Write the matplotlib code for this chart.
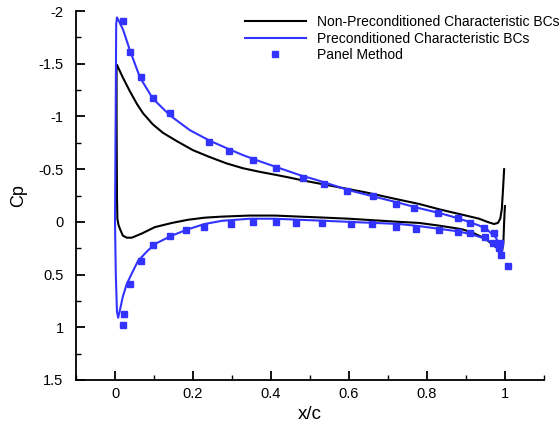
#!/usr/bin/env python3
import numpy as np
import matplotlib
matplotlib.use("Agg")
import matplotlib.pyplot as plt
from matplotlib.ticker import MultipleLocator

plt.rcParams['font.family'] = ['Liberation Sans', 'DejaVu Sans']

# non-preconditioned characteristic BCs (upper TE -> LE -> lower TE)
x_np = [0.998, 0.995, 0.992, 0.988, 0.982, 0.972, 0.955, 0.934, 0.9, 0.865, 0.831,
        0.78, 0.729, 0.686, 0.643, 0.6, 0.558, 0.515, 0.473, 0.448, 0.414, 0.371,
        0.327, 0.286, 0.243, 0.2, 0.159, 0.123, 0.097, 0.072, 0.056, 0.038, 0.020,
        0.010, 0.005, 0.004, 0.004, 0.005, 0.006, 0.009, 0.013, 0.02, 0.03, 0.043,
        0.069, 0.102, 0.146, 0.187, 0.23, 0.274, 0.345, 0.41, 0.473, 0.54, 0.6,
        0.665, 0.729, 0.78, 0.83, 0.865, 0.89, 0.916, 0.95, 0.98, 0.992, 0.996,
        0.998, 1.0]
cp_np = [-0.50, -0.30, -0.12, -0.03, 0.01, 0.02, 0.0, -0.03, -0.06, -0.09, -0.12,
         -0.17, -0.21, -0.245, -0.28, -0.31, -0.34, -0.37, -0.40, -0.42, -0.445, -0.475,
         -0.51, -0.555, -0.615, -0.68, -0.765, -0.845, -0.925, -1.03, -1.12, -1.24, -1.37,
         -1.45, -1.49, -1.45, -1.0, -0.25, -0.03, 0.03, 0.07, 0.13, 0.15, 0.15,
         0.11, 0.05, 0.01, -0.02, -0.04, -0.05, -0.06, -0.06, -0.05, -0.04, -0.03,
         -0.015, 0.0, 0.01, 0.035, 0.055, 0.07, 0.10, 0.16, 0.25, 0.29, 0.2,
         0.0, -0.15]

# preconditioned characteristic BCs
x_pc = [0.99, 0.977, 0.955, 0.934, 0.9, 0.865, 0.831, 0.78, 0.729, 0.686, 0.643,
        0.6, 0.558, 0.515, 0.473, 0.414, 0.371, 0.327, 0.286, 0.243, 0.192, 0.141,
        0.097, 0.064, 0.038, 0.021, 0.012, 0.005, 0.003, 0.002, 0.0, 0.002, 0.005,
        0.008, 0.013, 0.02, 0.03, 0.043, 0.059, 0.082, 0.102, 0.146, 0.187, 0.23,
        0.274, 0.345, 0.41, 0.473, 0.54, 0.6, 0.665, 0.729, 0.78, 0.83, 0.88,
        0.916, 0.95, 0.967, 0.99]
cp_pc = [0.25, 0.15, 0.075, 0.035, -0.01, -0.05, -0.085, -0.13, -0.18, -0.22, -0.26,
         -0.30, -0.35, -0.40, -0.445, -0.52, -0.575, -0.635, -0.70, -0.77, -0.87, -1.01,
         -1.17, -1.37, -1.63, -1.82, -1.89, -1.94, -1.88, -1.2, 0.0, 0.5, 0.85,
         0.91, 0.83, 0.71, 0.59, 0.49, 0.37, 0.28, 0.21, 0.13, 0.07, 0.02,
         -0.01, -0.03, -0.03, -0.02, -0.01, 0.0, 0.01, 0.02, 0.04, 0.065, 0.09,
         0.12, 0.16, 0.20, 0.28]

# panel method
x_pm = [0.020, 0.038, 0.066, 0.097, 0.141, 0.240, 0.292, 0.353, 0.412, 0.481, 0.537,
        0.596, 0.662, 0.721, 0.767, 0.829, 0.88, 0.91, 0.946, 0.972, 0.987,
        0.020, 0.023, 0.038, 0.066, 0.097, 0.141, 0.182, 0.228, 0.297, 0.355, 0.412,
        0.465, 0.532, 0.604, 0.66, 0.721, 0.772, 0.831, 0.88, 0.91, 0.949, 0.969,
        0.985, 0.99, 1.008]
cp_pm = [-1.91, -1.61, -1.37, -1.18, -1.03, -0.76, -0.67, -0.59, -0.51, -0.42, -0.36,
         -0.29, -0.25, -0.17, -0.13, -0.08, -0.04, 0.01, 0.06, 0.11, 0.20,
         0.98, 0.876, 0.59, 0.37, 0.22, 0.13, 0.076, 0.048, 0.02, 0.0, 0.0,
         0.01, 0.01, 0.02, 0.02, 0.05, 0.07, 0.08, 0.10, 0.11, 0.14, 0.20,
         0.25, 0.31, 0.42]

blue = '#3333ff'

fig = plt.figure(figsize=(5.59, 4.26), dpi=100)
ax = fig.add_axes([0.136, 0.108, 0.837, 0.866])

ax.plot(x_np, cp_np, color='black', lw=1.5, label='Non-Preconditioned Characteristic BCs')
ax.plot(x_pc, cp_pc, color=blue, lw=1.5, label='Preconditioned Characteristic BCs')
ax.plot(x_pm, cp_pm, ls='none', marker='s', ms=5, color=blue, mec=blue, label='Panel Method')

ax.set_xlim(-0.1, 1.1)
ax.set_ylim(1.5, -2)

ax.spines['top'].set_visible(False)
ax.spines['right'].set_visible(False)
ax.spines['left'].set_linewidth(1.3)
ax.spines['bottom'].set_linewidth(1.3)

ax.xaxis.set_major_locator(MultipleLocator(0.2))
ax.xaxis.set_minor_locator(MultipleLocator(0.1))
ax.yaxis.set_major_locator(MultipleLocator(0.5))
ax.yaxis.set_minor_locator(MultipleLocator(0.25))
ax.xaxis.set_major_formatter(plt.FuncFormatter(lambda v, p: ('%g' % round(v, 2)) if -0.05 < v < 1.05 else ''))
ax.yaxis.set_major_formatter(plt.FuncFormatter(lambda v, p: '%g' % round(v, 2)))

ax.tick_params(which='major', direction='in', length=6.5, width=1.3, labelsize=10.5)
ax.tick_params(which='minor', direction='in', length=3.5, width=1.0)
ax.tick_params(axis='y', pad=9)
ax.tick_params(axis='x', pad=5)

ax.set_xlabel('x/c', fontsize=13.5, labelpad=4)
ax.set_ylabel('Cp', fontsize=13, labelpad=8)

ax.legend(loc='upper left', bbox_to_anchor=(0.361, 0.99), frameon=False, fontsize=10,
          handlelength=4.4, handletextpad=0.8, labelspacing=0.2,
          borderpad=0, borderaxespad=0)

fig.savefig('out.png', dpi=100)
